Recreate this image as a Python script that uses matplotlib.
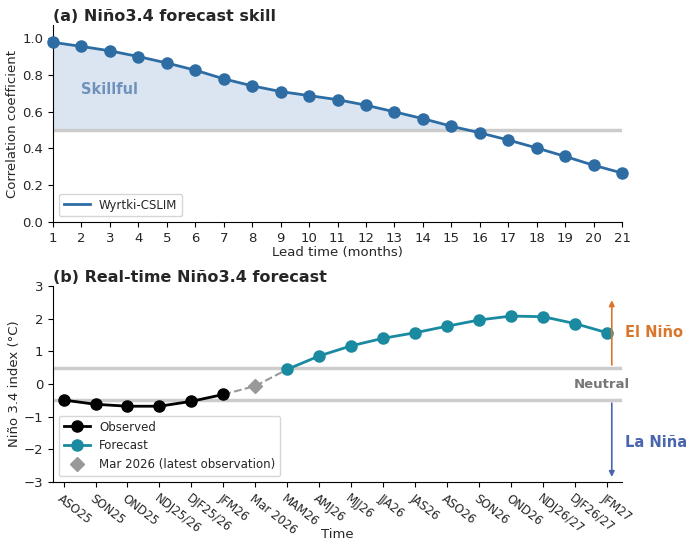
import numpy as np
import matplotlib
matplotlib.use("Agg")
import matplotlib.pyplot as plt

# panel (a): forecast skill
lead = np.arange(1, 22)
skill = [0.976, 0.954, 0.930, 0.899, 0.864, 0.825, 0.778, 0.740, 0.709, 0.687, 0.665,
         0.635, 0.599, 0.562, 0.521, 0.485, 0.446, 0.403, 0.357, 0.309, 0.267]

# panel (b): real-time forecast
seasons = ['ASO25', 'SON25', 'OND25', 'NDJ25/26', 'DJF25/26', 'JFM26', 'Mar 2026',
           'MAM26', 'AMJ26', 'MJJ26', 'JJA26', 'JAS26', 'ASO26', 'SON26', 'OND26',
           'NDJ26/27', 'DJF26/27', 'JFM27']
observed = [-0.49, -0.62, -0.68, -0.68, -0.53, -0.32]
latest_obs = -0.06
forecast = [0.45, 0.86, 1.17, 1.40, 1.57, 1.77, 1.96, 2.08, 2.06, 1.85, 1.57]

c_skill = '#2e6da4'
c_fc = '#1a8aa0'
c_nino = '#d9762b'
c_nina = '#4a66ad'

plt.rcParams['font.size'] = 9.5
plt.rcParams['text.color'] = '#262626'
plt.rcParams['axes.labelcolor'] = '#262626'
plt.rcParams['xtick.labelcolor'] = '#262626'
plt.rcParams['ytick.labelcolor'] = '#262626'
fig = plt.figure(figsize=(7, 5.5), dpi=100)

# ---------- (a)
ax1 = fig.add_axes([0.0757, 0.596, 0.8129, 0.3585])
ax1.axhline(0.5, color='#cccccc', lw=2.5, zorder=1)
sk = np.array(skill)
ax1.fill_between(lead, sk, 0.5, where=sk > 0.5, interpolate=True,
                 color='#dbe5f1', zorder=0)
ax1.plot(lead, skill, '-', color=c_skill, lw=2, label='Wyrtki-CSLIM', zorder=3)
ax1.plot(lead, skill, 'o', color=c_skill, ms=8, zorder=4, clip_on=False)
ax1.text(3.0, 0.72, 'Skillful', color='#6e92bb', fontsize=10.5,
         fontweight='bold', ha='center', va='center')
ax1.set_xlim(1, 21)
ax1.set_ylim(0, 1.07)
ax1.set_xticks(lead)
ax1.set_yticks([0, 0.2, 0.4, 0.6, 0.8, 1.0])
ax1.set_xlabel('Lead time (months)', labelpad=1)
ax1.set_ylabel('Correlation coefficient', labelpad=2)
ax1.set_title('(a) Niño3.4 forecast skill', loc='left', fontweight='bold',
              fontsize=11.5, pad=3)
ax1.spines['top'].set_visible(False)
ax1.spines['right'].set_visible(False)
ax1.legend(loc='lower left', fontsize=8.5, handlelength=2.2)

# ---------- (b)
ax2 = fig.add_axes([0.0757, 0.1236, 0.8129, 0.3564])
x = np.arange(len(seasons))
n_obs = len(observed)
x_obs = x[:n_obs]
x_latest = x[n_obs]
x_fc = x[n_obs + 1:]

ax2.axhline(0.5, color='#cccccc', lw=2.5, zorder=1)
ax2.axhline(-0.5, color='#cccccc', lw=2.5, zorder=1)
ax2.plot([x_obs[-1], x_latest, x_fc[0]], [observed[-1], latest_obs, forecast[0]],
         '--', color='#999999', lw=1.5, zorder=2)
ax2.plot(x_obs, observed, '-o', color='black', lw=2, ms=8, label='Observed', zorder=3)
ax2.plot(x_fc, forecast, '-o', color=c_fc, lw=2, ms=8, label='Forecast', zorder=3)
ax2.plot(x_latest, latest_obs, 'D', color='#999999', ms=7, lw=0,
         label='Mar 2026 (latest observation)', zorder=3)

xa = 17.15
ax2.annotate('', xy=(xa, 2.65), xytext=(xa, 0.5),
             arrowprops=dict(arrowstyle='-|>', color=c_nino, lw=1.2, mutation_scale=8))
ax2.annotate('', xy=(xa, -2.93), xytext=(xa, -0.5),
             arrowprops=dict(arrowstyle='-|>', color=c_nina, lw=1.2, mutation_scale=8))
ax2.text(17.55, 1.58, 'El Niño', color=c_nino, fontsize=10.5, fontweight='bold',
         va='center', ha='left', clip_on=False)
ax2.text(16.83, 0.0, 'Neutral', color='#777777', fontsize=9.5, fontweight='bold',
         va='center', ha='center', clip_on=False)
ax2.text(17.55, -1.79, 'La Niña', color=c_nina, fontsize=10.5, fontweight='bold',
         va='center', ha='left', clip_on=False)

ax2.set_xlim(-0.33, 17.47)
ax2.set_ylim(-3, 3)
ax2.set_xticks(x)
ax2.set_xticklabels(seasons, rotation=-38, ha='left', rotation_mode='anchor', fontsize=8.5)
ax2.set_yticks([-3, -2, -1, 0, 1, 2, 3])
ax2.set_xlabel('Time')
ax2.xaxis.set_label_coords(0.5, -0.235)
ax2.set_ylabel('Niño 3.4 index (°C)', labelpad=2)
ax2.set_title('(b) Real-time Niño3.4 forecast', loc='left', fontweight='bold',
              fontsize=11.5, pad=3)
ax2.spines['top'].set_visible(False)
ax2.spines['right'].set_visible(False)
ax2.legend(loc='lower left', fontsize=8.5, handlelength=2.2)

fig.savefig('out.png', dpi=100)
